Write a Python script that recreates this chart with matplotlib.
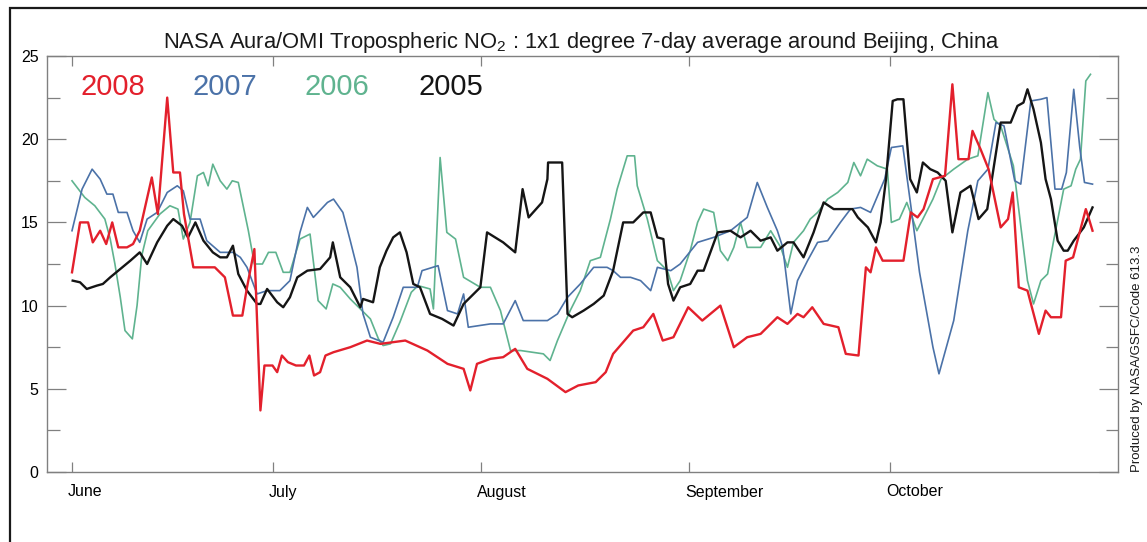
import matplotlib
matplotlib.use("Agg")
import matplotlib as mpl
from matplotlib import pyplot as plt
from matplotlib.patches import Rectangle
from matplotlib.transforms import ScaledTranslation

# days counted from June 1st, NO2 column values
red_days = [0, 1.2, 2.4, 3.1, 4.2, 5.1, 6.0, 6.9, 8.2, 9.1,
            10.1, 11.9, 12.8, 14.2, 15.1, 16.1, 16.7, 18.1, 21.3, 22.8,
            24.0, 25.4, 26.1, 27.2, 28.1, 28.7, 29.9, 30.6, 31.3, 32.2,
            33.4, 34.6, 35.4, 36.1, 37.0, 37.8, 39.0, 41.5, 44.0, 46.0,
            49.7, 53.0, 56.0, 58.4, 59.4, 60.4, 62.4, 64.3, 66.1, 67.9,
            70.9, 73.6, 75.5, 78.1, 79.6, 80.7, 83.7, 85.2, 86.7, 88.1,
            89.7, 91.9, 94.0, 96.7, 98.7, 100.7, 102.7, 105.2, 106.7, 108.2,
            109.1, 110.4, 112.1, 114.3, 115.4, 117.3, 118.4, 119.1, 119.9, 120.9,
            124.0, 125.1, 126.1, 127.0, 128.4, 130.2, 131.3, 132.2, 133.7, 134.3,
            135.5, 136.7, 138.5, 139.6, 140.3, 141.2, 142.5, 144.2, 145.2, 146.0,
            147.5, 148.2, 149.3, 151.2, 151.6, 152.2]
red_vals = [12.0, 15.0, 15.0, 13.8, 14.5, 13.7, 15.0, 13.5, 13.5, 13.7,
            14.5, 17.7, 15.5, 22.5, 18.0, 18.0, 15.5, 12.3, 12.3, 11.7,
            9.4, 9.4, 11.1, 13.4, 3.7, 6.4, 6.4, 6.0, 7.0, 6.6,
            6.4, 6.4, 7.0, 5.8, 6.0, 7.0, 7.2, 7.5, 7.9, 7.7,
            7.9, 7.3, 6.5, 6.2, 4.9, 6.5, 6.8, 6.9, 7.4, 6.2,
            5.6, 4.8, 5.2, 5.4, 6.0, 7.1, 8.5, 8.7, 9.5, 7.9,
            8.1, 9.9, 9.1, 10.0, 7.5, 8.1, 8.3, 9.3, 8.9, 9.5,
            9.3, 9.9, 8.9, 8.7, 7.1, 7.0, 12.3, 12.0, 13.5, 12.7,
            12.7, 15.6, 15.3, 15.8, 17.6, 17.8, 23.3, 18.8, 18.8, 20.5,
            19.4, 18.2, 14.7, 15.2, 16.8, 11.1, 10.9, 8.3, 9.7, 9.3,
            9.3, 12.7, 12.9, 15.8, 15.3, 14.5]

blue_days = [0, 1.5, 3.0, 4.2, 5.2, 6.1, 6.9, 8.2, 9.1, 10.1,
             11.2, 12.7, 14.2, 15.7, 16.6, 17.6, 19.1, 20.1, 22.1, 24.0,
             25.1, 26.1, 27.6, 29.1, 31.0, 32.5, 34.0, 35.1, 36.0, 38.1,
             39.0, 40.4, 41.5, 42.5, 43.4, 44.5, 46.4, 47.9, 49.4, 51.5,
             52.2, 54.6, 56.0, 57.5, 58.4, 59.1, 62.4, 64.3, 66.1, 67.3,
             70.9, 72.4, 73.9, 75.8, 77.8, 79.8, 80.7, 81.8, 83.3, 84.8,
             86.3, 87.3, 89.3, 90.7, 93.3, 95.7, 98.2, 100.7, 102.2, 103.7,
             105.2, 106.0, 107.2, 108.2, 109.7, 111.2, 112.7, 114.6, 116.1, 117.6,
             119.1, 121.2, 122.2, 123.9, 125.1, 126.4, 128.4, 129.3, 131.5, 133.6,
             135.1, 136.6, 137.8, 139.0, 140.6, 141.5, 143.0, 144.5, 145.4, 146.6,
             147.6, 148.3, 149.4, 150.3, 151.0, 152.2]
blue_vals = [14.5, 17.0, 18.2, 17.6, 16.7, 16.7, 15.6, 15.6, 14.5, 13.8,
             15.2, 15.6, 16.8, 17.2, 16.9, 15.2, 15.2, 13.9, 13.2, 13.2,
             12.9, 12.3, 10.7, 10.9, 10.9, 11.5, 14.4, 15.9, 15.3, 16.2,
             16.4, 15.6, 13.9, 12.3, 9.5, 8.1, 7.8, 9.3, 11.1, 11.1,
             12.1, 12.4, 9.7, 9.5, 10.7, 8.7, 8.9, 8.9, 10.3, 9.1,
             9.1, 9.5, 10.5, 11.3, 12.3, 12.3, 12.1, 11.7, 11.7, 11.5,
             10.9, 12.3, 12.1, 12.5, 13.8, 14.1, 14.5, 15.3, 17.4, 15.9,
             14.5, 13.5, 9.5, 11.5, 12.7, 13.8, 13.9, 15.0, 15.8, 15.9,
             15.6, 17.6, 19.5, 19.6, 16.0, 12.0, 7.5, 5.9, 9.1, 14.5,
             17.5, 18.2, 21.0, 20.8, 17.5, 17.3, 22.3, 22.4, 22.5, 17.0,
             17.0, 18.0, 23.0, 19.5, 17.4, 17.3]

green_days = [0, 1.9, 3.4, 4.9, 5.7, 6.4, 7.2, 7.9, 9.0, 9.7,
              10.4, 11.3, 13.1, 14.6, 15.8, 16.6, 17.6, 18.7, 19.6, 20.3,
              21.0, 22.1, 23.1, 23.9, 24.8, 26.3, 27.2, 28.4, 29.3, 30.4,
              31.5, 32.5, 34.0, 35.5, 36.7, 37.9, 38.9, 40.0, 41.5, 43.0,
              44.5, 45.7, 46.4, 47.5, 48.9, 50.6, 51.6, 53.4, 53.9, 54.9,
              55.9, 57.2, 58.4, 60.9, 62.4, 63.9, 65.4, 66.9, 70.3, 71.3,
              72.4, 74.3, 75.8, 77.3, 78.8, 80.3, 81.3, 82.8, 83.9, 84.3,
              85.8, 87.3, 88.8, 89.7, 90.7, 92.2, 93.3, 94.2, 95.7, 96.7,
              97.8, 98.7, 99.7, 100.7, 102.7, 104.2, 105.7, 106.7, 107.6, 109.1,
              110.1, 111.2, 112.7, 114.2, 115.7, 116.6, 117.6, 118.6, 120.1, 121.6,
              122.2, 123.4, 124.5, 126.0, 126.9, 128.4, 129.6, 131.5, 133.6, 135.1,
              136.6, 137.5, 138.5, 140.4, 142.5, 143.4, 144.5, 145.5, 146.4, 147.9,
              149.0, 149.7, 150.4, 151.2, 151.9]
green_vals = [17.5, 16.5, 16.0, 15.2, 14.0, 12.5, 10.5, 8.5, 8.0, 10.0,
              13.0, 14.5, 15.5, 16.0, 15.8, 14.0, 15.0, 17.8, 18.0, 17.2,
              18.5, 17.5, 17.0, 17.5, 17.4, 14.5, 12.5, 12.5, 13.2, 13.2,
              12.0, 12.0, 14.0, 14.3, 10.3, 9.8, 11.3, 11.1, 10.4, 9.8,
              9.2, 8.0, 7.6, 7.7, 9.0, 10.8, 11.2, 11.0, 9.8, 18.9,
              14.4, 14.0, 11.7, 11.1, 11.1, 9.7, 7.3, 7.3, 7.1, 6.7,
              7.9, 9.7, 10.9, 12.7, 12.9, 15.2, 17.0, 19.0, 19.0, 17.2,
              15.2, 12.7, 12.1, 10.9, 11.5, 13.3, 15.0, 15.8, 15.6, 13.3,
              12.7, 13.5, 15.0, 13.5, 13.5, 14.5, 13.5, 12.3, 13.8, 14.5,
              15.2, 15.6, 16.4, 16.8, 17.4, 18.6, 17.8, 18.8, 18.4, 18.2,
              15.0, 15.2, 16.2, 14.5, 15.2, 16.4, 17.6, 18.2, 18.8, 19.0,
              22.8, 21.2, 20.8, 18.4, 11.5, 10.1, 11.5, 11.9, 13.9, 17.0,
              17.2, 18.2, 18.8, 23.5, 23.9]

black_days = [0.1, 1.2, 2.2, 3.7, 4.6, 5.7, 7.2, 8.7, 10.1, 11.2,
              12.7, 14.2, 15.1, 16.4, 17.3, 18.4, 19.6, 21.0, 22.1, 23.1,
              24.0, 24.8, 26.1, 27.6, 28.1, 29.1, 30.6, 31.5, 32.5, 33.6,
              35.1, 37.0, 38.5, 38.9, 40.0, 41.5, 43.0, 43.4, 44.9, 45.9,
              46.9, 47.9, 48.9, 49.9, 50.9, 51.9, 53.4, 55.2, 56.9, 58.4,
              59.4, 60.9, 61.9, 63.1, 64.3, 66.1, 67.2, 68.1, 70.1, 70.9,
              71.0, 73.1, 73.9, 74.6, 76.3, 77.8, 79.3, 80.7, 82.2, 83.7,
              85.2, 86.3, 87.3, 88.2, 88.9, 89.7, 90.7, 92.2, 93.3, 94.2,
              95.2, 96.3, 98.2, 99.7, 101.2, 102.7, 104.2, 105.2, 106.7, 107.6,
              109.1, 110.6, 112.1, 113.6, 115.1, 116.4, 117.2, 118.7, 119.9, 120.6,
              121.4, 122.4, 123.1, 124.0, 125.0, 126.0, 126.9, 128.0, 129.1, 130.3,
              131.3, 132.5, 134.0, 135.2, 136.5, 138.5, 140.0, 141.0, 141.9, 142.5,
              143.4, 144.5, 145.2, 146.0, 147.0, 147.9, 148.5, 149.4, 150.9, 152.2]
black_vals = [11.5, 11.4, 11.0, 11.2, 11.3, 11.7, 12.2, 12.7, 13.2, 12.5,
              13.8, 14.8, 15.2, 14.8, 14.1, 15.0, 13.9, 13.2, 12.9, 12.9,
              13.6, 11.9, 10.9, 10.1, 10.1, 11.0, 10.2, 9.9, 10.5, 11.7,
              12.1, 12.2, 12.9, 13.8, 11.7, 11.1, 9.9, 10.4, 10.2, 12.3,
              13.3, 14.1, 14.4, 13.2, 11.3, 11.1, 9.5, 9.2, 8.8, 10.1,
              10.5, 11.1, 14.4, 14.1, 13.8, 13.2, 17.0, 15.3, 16.2, 17.6,
              18.6, 18.6, 9.5, 9.3, 9.7, 10.1, 10.6, 12.1, 15.0, 15.0,
              15.6, 15.6, 14.1, 14.0, 11.3, 10.3, 11.1, 11.3, 12.1, 12.1,
              13.2, 14.4, 14.5, 14.1, 14.5, 13.9, 14.1, 13.3, 13.8, 13.8,
              12.9, 14.4, 16.2, 15.8, 15.8, 15.8, 15.3, 14.7, 13.8, 15.0,
              17.6, 22.3, 22.4, 22.4, 17.6, 16.8, 18.6, 18.2, 18.0, 17.5,
              14.4, 16.8, 17.2, 15.2, 15.8, 21.0, 21.0, 22.0, 22.2, 23.0,
              21.8, 19.8, 17.6, 16.4, 13.9, 13.3, 13.3, 13.9, 14.7, 15.9]

years = ["2008", "2007", "2006", "2005"]
month_days = [0, 30, 61, 92, 122]
month_labels = ["June", "July", "August", "September", "October"]

mpl.rcParams["font.family"] = ["Liberation Sans", "DejaVu Sans"]
mpl.rcParams["mathtext.fontset"] = "custom"
mpl.rcParams["mathtext.rm"] = "Liberation Sans"

W, H = 1147, 542
fig = plt.figure(figsize=(W / 100, H / 100), dpi=100)
fig.patch.set_facecolor("white")

# outer frame (cut off on the right and bottom in the original)
fig.add_artist(Rectangle((10 / W, -0.2), 1.5, 1 - 8 / H + 0.2, fill=False,
                         lw=1.6, edgecolor="#1a1a1a", transform=fig.transFigure))

x0, x1, y0, y1 = 47, 1118, 56, 472
ax = fig.add_axes([x0 / W, 1 - y1 / H, (x1 - x0) / W, (y1 - y0) / H])

colors = {"2008": "#e3202c", "2007": "#4b72a8", "2006": "#5fb38f", "2005": "#151515"}
ax.plot(green_days, green_vals, color=colors["2006"], lw=1.2, zorder=2)
ax.plot(blue_days, blue_vals, color=colors["2007"], lw=1.2, zorder=3)
ax.plot(black_days, black_vals, color=colors["2005"], lw=1.7, zorder=4)
ax.plot(red_days, red_vals, color=colors["2008"], lw=1.7, zorder=5)

ax.set_xlim(-3.73, 156.0)
ax.set_ylim(0, 25)

for sp in ax.spines.values():
    sp.set_color("#808080")
    sp.set_linewidth(1.0)

ax.set_yticks([0, 5, 10, 15, 20, 25])
ax.set_yticks([2.5, 7.5, 12.5, 17.5, 22.5], minor=True)
ax.tick_params(axis="y", which="major", direction="in", length=14, width=0.9,
               color="#808080", left=True, right=True, labelsize=11.5, pad=6)
ax.tick_params(axis="y", which="minor", direction="in", length=9, width=0.9,
               color="#808080", left=True, right=True)
ax.set_xticks(month_days)
ax.set_xticklabels(month_labels)
ax.tick_params(axis="x", which="major", direction="in", length=7, width=0.9,
               color="#808080", top=True, bottom=True, labelsize=11.5, pad=9)
off = ScaledTranslation(-4 / 100, 0, fig.dpi_scale_trans)
for lab in ax.get_xticklabels():
    lab.set_horizontalalignment("left")
    lab.set_transform(lab.get_transform() + off)

# year labels in the top left of the plot
for yr, xp in zip(years, [80, 193, 305, 418]):
    ax.text((xp - x0) / (x1 - x0), (y1 - 87) / (y1 - y0), yr, color=colors[yr],
            fontsize=21, ha="left", va="center", transform=ax.transAxes)

fig.text(581 / W, 1 - 42 / H,
         "NASA Aura/OMI Tropospheric NO$_2$ : 1x1 degree 7-day average around Beijing, China",
         ha="center", va="center", fontsize=15.8, color="#1a1a1a")
fig.text(1137 / W, 1 - 472 / H, "Produced by NASA/GSFC/Code 613.3", rotation=90,
         ha="center", va="bottom", fontsize=9.5, color="#1a1a1a")

fig.savefig("out.png", dpi=100)
